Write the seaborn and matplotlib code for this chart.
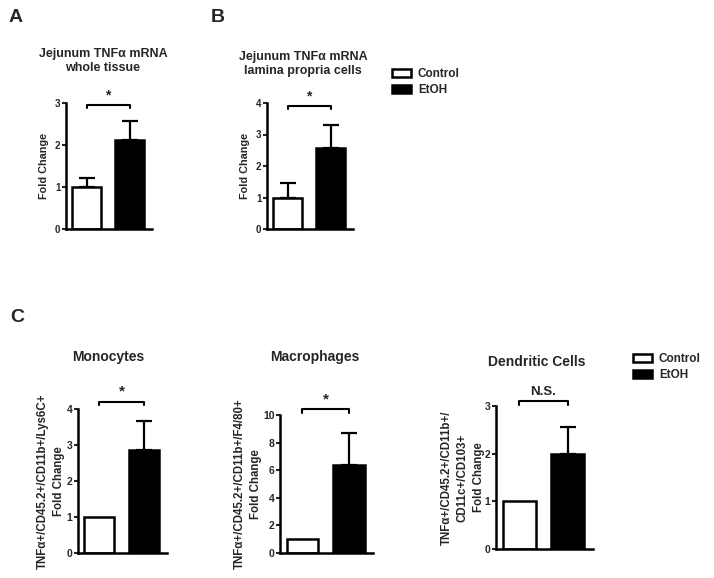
import matplotlib
matplotlib.use("Agg")
import matplotlib.pyplot as plt
import seaborn as sns
from matplotlib.patches import Patch

# values (mean, upper error)
groups = ["Control", "EtOH"]
a_mean = [1.0, 2.12]
a_err = [0.22, 0.44]
b_mean = [1.0, 2.57]
b_err = [0.45, 0.73]
mono_mean = [1.0, 2.86]
mono_err = [0.0, 0.81]
macro_mean = [1.0, 6.38]
macro_err = [0.0, 2.3]
dc_mean = [1.0, 2.0]
dc_err = [0.0, 0.56]

sns.set_style("white")
plt.rcParams['font.family'] = ['Liberation Sans', 'DejaVu Sans']
plt.rcParams['font.weight'] = 'bold'

W, H = 714, 578
fig = plt.figure(figsize=(W / 100, H / 100), dpi=100)


def px_axes(left, right, y0, ytop):
    # pixel coordinates -> figure fraction
    return fig.add_axes([left / W, 1 - y0 / H, (right - left) / W, (y0 - ytop) / H])


def bar_panel(ax, means, errs, ymax, ticks, ylabel, label_size, tick_size, bracket_y, sig, sig_size, pad):
    sns.barplot(x=groups, y=means, hue=groups, palette=["white", "black"],
                edgecolor="black", linewidth=1.8, width=0.68, legend=False, ax=ax)
    for i, (m, e) in enumerate(zip(means, errs)):
        if e > 0:
            ax.errorbar(i, m, yerr=[[0], [e]], fmt="none", ecolor="black",
                        elinewidth=1.6, capsize=5.5, capthick=1.6)
    ax.set_xlim(-0.48, 1.52)
    ax.set_ylim(0, ymax)
    ax.set_yticks(ticks)
    ax.set_yticklabels([str(t) for t in ticks], fontsize=tick_size, fontweight="bold")
    ax.set_xticks([])
    ax.set_xlabel("")
    ax.set_ylabel(ylabel, fontsize=label_size, fontweight="bold", linespacing=1.45, labelpad=pad)
    ax.tick_params(axis="y", direction="out", length=3, width=1.5, pad=1, left=True)
    for s in ["top", "right"]:
        ax.spines[s].set_visible(False)
    for s in ["left", "bottom"]:
        ax.spines[s].set_linewidth(1.8)
        ax.spines[s].set_color("black")
    # significance bracket
    leg = ymax * 0.025
    ax.plot([0, 0, 1, 1], [bracket_y - leg, bracket_y, bracket_y, bracket_y - leg],
            color="black", lw=1.5, clip_on=False)
    ax.text(0.5, bracket_y + ymax * 0.02, sig, ha="center", va="bottom",
            fontsize=sig_size, fontweight="bold", clip_on=False)


ax_a = px_axes(66, 152, 229, 103)
bar_panel(ax_a, a_mean, a_err, 3, [0, 1, 2, 3], "Fold Change", 7.8, 7, 2.95, "*", 10, 4)
ax_b = px_axes(267, 353, 229, 103)
bar_panel(ax_b, b_mean, b_err, 4, [0, 1, 2, 3, 4], "Fold Change", 7.8, 7, 3.92, "*", 10, 4)

ax_m = px_axes(78, 167, 553, 409)
bar_panel(ax_m, mono_mean, mono_err, 4, [0, 1, 2, 3, 4],
          "TNFα+/CD45.2+/CD11b+/Lys6C+\nFold Change", 8.3, 7.5, 4.2, "*", 11, 1)
ax_mac = px_axes(280, 373, 553, 415)
bar_panel(ax_mac, macro_mean, macro_err, 10, [0, 2, 4, 6, 8, 10],
          "TNFα+/CD45.2+/CD11b+/F4/80+\nFold Change", 8.3, 7.5, 10.4, "*", 11, 1)
ax_dc = px_axes(496, 593, 549, 406)
bar_panel(ax_dc, dc_mean, dc_err, 3, [0, 1, 2, 3],
          "TNFα+/CD45.2+/CD11b+/\nCD11c+/CD103+\nFold Change", 8.3, 7.5, 3.1, "N.S.", 9.5, 0)

# titles
fig.text(103 / W, 1 - 61 / H, "Jejunum TNFα mRNA\nwhole tissue", ha="center", va="center",
         fontsize=9, fontweight="bold", linespacing=1.15)
fig.text(303 / W, 1 - 64 / H, "Jejunum TNFα mRNA\nlamina propria cells", ha="center", va="center",
         fontsize=9, fontweight="bold", linespacing=1.15)
fig.text(108 / W, 1 - 357 / H, "Monocytes", ha="center", va="center", fontsize=10, fontweight="bold")
fig.text(315 / W, 1 - 357 / H, "Macrophages", ha="center", va="center", fontsize=10, fontweight="bold")
fig.text(537 / W, 1 - 362 / H, "Dendritic Cells", ha="center", va="center", fontsize=10, fontweight="bold")

# panel letters
for letter, x, y in [("A", 16, 18), ("B", 218, 18), ("C", 17, 317)]:
    fig.text(x / W, 1 - y / H, letter, ha="center", va="center", fontsize=14, fontweight="bold")

# legends
handles = [Patch(facecolor="white", edgecolor="black", linewidth=1.8, label=groups[0]),
           Patch(facecolor="black", edgecolor="black", linewidth=1.8, label=groups[1])]
for lx, ly in [(392, 68), (633, 353)]:
    fig.legend(handles=handles, loc="upper left", bbox_to_anchor=(lx / W, 1 - ly / H),
               frameon=False, handlelength=1.6, handleheight=0.65, handletextpad=0.6,
               labelspacing=0.35, borderpad=0, borderaxespad=0,
               prop={"size": 8.5, "weight": "bold"})

fig.savefig("out.png", dpi=100)
